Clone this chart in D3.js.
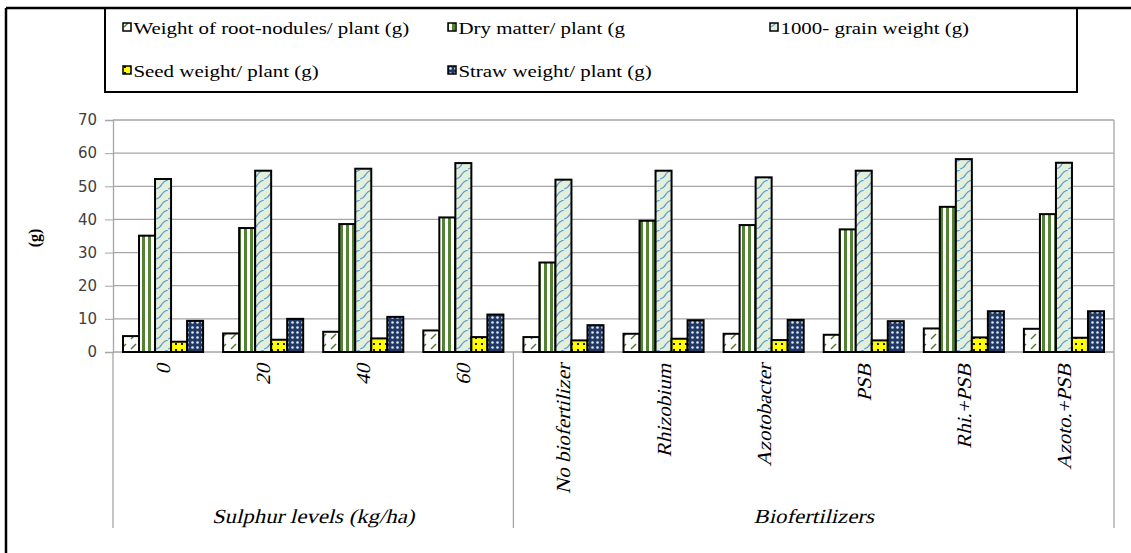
<!DOCTYPE html>
<html>
<head>
<meta charset="utf-8">
<title>Sulphur levels and biofertilizers</title>
<script src="https://d3js.org/d3.v7.min.js"></script>
<style>
  body { margin: 0; background: #fff; }
</style>
</head>
<body>
<div id="chart"></div>
<script>
  const categories = ["0", "20", "40", "60", "No biofertilizer", "Rhizobium", "Azotobacter", "PSB", "Rhi.+PSB", "Azoto.+PSB"];
  const groups = [
    { name: "Sulphur levels (kg/ha)", from: 0, to: 3 },
    { name: "Biofertilizers", from: 4, to: 9 }
  ];
  const seriesNames = [
    "Weight of root-nodules/ plant (g)",
    "Dry matter/ plant (g",
    "1000- grain weight (g)",
    "Seed weight/ plant (g)",
    "Straw weight/ plant (g)"
  ];
  const rootNodules = [4.8, 5.6, 6.1, 6.5, 4.5, 5.5, 5.5, 5.2, 7.1, 7.0];
  const dryMatter = [35.1, 37.4, 38.6, 40.6, 27.0, 39.6, 38.3, 37.0, 43.8, 41.6];
  const grainWeight = [52.2, 54.7, 55.3, 57.0, 52.0, 54.7, 52.7, 54.7, 58.2, 57.1];
  const seedWeight = [3.1, 3.7, 4.1, 4.5, 3.5, 4.0, 3.6, 3.5, 4.4, 4.3];
  const strawWeight = [9.4, 10.0, 10.6, 11.3, 8.1, 9.6, 9.7, 9.3, 12.3, 12.3];
  const yTicks = [0, 10, 20, 30, 40, 50, 60, 70];

  const seriesValues = [rootNodules, dryMatter, grainWeight, seedWeight, strawWeight];

  const width = 1131, height = 553;
  const plot = { left: 113, right: 1114, top: 120, bottom: 352 };
  const serif = "'Liberation Serif'";

  const svg = d3.select("#chart").append("svg")
    .attr("width", width)
    .attr("height", height)
    .attr("font-family", serif);

  // fill patterns, one per series
  const defs = svg.append("defs");

  const p0 = defs.append("pattern").attr("id", "pat0").attr("patternUnits", "userSpaceOnUse")
    .attr("width", 10).attr("height", 10);
  p0.append("rect").attr("width", 10).attr("height", 10).attr("fill", "#fff");
  p0.append("path").attr("d", "M1,9 L6,4").attr("stroke", "#4e7a2c").attr("stroke-width", 1.5);

  const p1 = defs.append("pattern").attr("id", "pat1").attr("patternUnits", "userSpaceOnUse")
    .attr("width", 6).attr("height", 6).attr("x", 1);
  p1.append("rect").attr("width", 6).attr("height", 6).attr("fill", "#fff");
  p1.append("rect").attr("x", 3).attr("width", 3).attr("height", 6).attr("fill", "#548235");

  const p2 = defs.append("pattern").attr("id", "pat2").attr("patternUnits", "userSpaceOnUse")
    .attr("width", 12).attr("height", 10);
  p2.append("rect").attr("width", 12).attr("height", 10).attr("fill", "#e2efda");
  p2.append("path").attr("d", "M0,9 Q4,8 6,4 Q8,1 12,0").attr("fill", "none")
    .attr("stroke", "#5b9bd5").attr("stroke-width", 1.2);

  const p3 = defs.append("pattern").attr("id", "pat3").attr("patternUnits", "userSpaceOnUse")
    .attr("width", 6).attr("height", 6);
  p3.append("rect").attr("width", 6).attr("height", 6).attr("fill", "#ffff00");
  p3.append("rect").attr("x", 1).attr("y", 1).attr("width", 2).attr("height", 2).attr("fill", "#1a1a1a");

  const p4 = defs.append("pattern").attr("id", "pat4").attr("patternUnits", "userSpaceOnUse")
    .attr("width", 5).attr("height", 5);
  p4.append("rect").attr("width", 5).attr("height", 5).attr("fill", "#1f3864");
  p4.append("circle").attr("cx", 2.5).attr("cy", 2.5).attr("r", 1.3).attr("fill", "#dfe6f2");

  const fills = ["url(#pat0)", "url(#pat1)", "url(#pat2)", "url(#pat3)", "url(#pat4)"];

  // outer frame (left and top edges visible)
  svg.append("line").attr("x1", 6).attr("x2", width).attr("y1", 8).attr("y2", 8)
    .attr("stroke", "#000").attr("stroke-width", 2.5);
  svg.append("line").attr("x1", 6).attr("x2", 6).attr("y1", 8).attr("y2", height)
    .attr("stroke", "#000").attr("stroke-width", 2.5);

  // legend box
  svg.append("rect").attr("x", 105).attr("y", 8).attr("width", 972).attr("height", 84)
    .attr("fill", "none").attr("stroke", "#000").attr("stroke-width", 2);

  const legendPos = [[123, 28], [448, 28], [770, 28], [123, 71], [448, 71]];
  const legend = svg.append("g").selectAll("g").data(seriesNames).join("g")
    .attr("transform", (d, i) => `translate(${legendPos[i][0]},${legendPos[i][1]})`);
  legend.append("rect").attr("x", 0).attr("y", -5).attr("width", 8).attr("height", 8)
    .attr("fill", (d, i) => fills[i]).attr("stroke", "#000").attr("stroke-width", 1.5);
  legend.append("text").attr("x", 8.5).attr("y", 0).attr("dy", "0.35em")
    .attr("font-size", 17).attr("fill", "#000")
    .attr("transform", "scale(1.23,1)")
    .text(d => d);

  // scales
  const x0 = d3.scaleBand().domain(categories).range([plot.left, plot.right])
    .paddingInner(0.2).paddingOuter(0.1);
  const x1 = d3.scaleBand().domain(d3.range(seriesNames.length)).range([0, x0.bandwidth()]);
  const y = d3.scaleLinear().domain([0, 70]).range([plot.bottom, plot.top]);

  // gridlines
  svg.append("g").selectAll("line").data(yTicks).join("line")
    .attr("x1", plot.left).attr("x2", plot.right)
    .attr("y1", d => y(d)).attr("y2", d => y(d))
    .attr("stroke", "#a6a6a6").attr("stroke-width", 1.3);

  // y axis
  const yAxis = svg.append("g").attr("transform", `translate(${plot.left},0)`)
    .call(d3.axisLeft(y).tickValues(yTicks).tickSize(8).tickPadding(8));
  yAxis.select(".domain").attr("stroke", "#a6a6a6").attr("stroke-width", 1.3);
  yAxis.selectAll(".tick line").attr("stroke", "#a6a6a6");
  yAxis.selectAll(".tick text").attr("font-family", "'DejaVu Sans', Verdana, sans-serif")
    .attr("font-size", 15).attr("fill", "#404040");

  // right border of plot area
  svg.append("line").attr("x1", plot.right).attr("x2", plot.right)
    .attr("y1", plot.top).attr("y2", 528).attr("stroke", "#a6a6a6").attr("stroke-width", 1.3);

  // y axis title
  svg.append("text").attr("transform", "translate(40,238) rotate(-90)")
    .attr("text-anchor", "middle").attr("font-weight", "bold").attr("font-size", 16)
    .text("(g)");

  // bars
  svg.append("g").selectAll("g").data(seriesValues).join("g")
    .attr("fill", (d, i) => fills[i])
    .each(function (vals, si) {
      d3.select(this).selectAll("rect").data(vals).join("rect")
        .attr("x", (d, ci) => x0(categories[ci]) + x1(si))
        .attr("width", x1.bandwidth())
        .attr("y", d => y(d))
        .attr("height", d => y(0) - y(d))
        .attr("stroke", "#000").attr("stroke-width", 2);
    });

  // group separators below the axis
  const sepX = [plot.left, (x0(categories[3]) + x0(categories[4]) + x0.bandwidth()) / 2];
  svg.append("g").selectAll("line").data(sepX).join("line")
    .attr("x1", d => d).attr("x2", d => d).attr("y1", plot.bottom).attr("y2", 528)
    .attr("stroke", "#a6a6a6").attr("stroke-width", 1.3);

  // category labels (italic faked with a skew, the serif italic face is not installed)
  svg.append("g").selectAll("text").data(categories).join("text")
    .attr("transform", d => `translate(${x0(d) + x0.bandwidth() / 2 + 7},364) rotate(-90) skewX(-14) scale(1.05,1)`)
    .attr("text-anchor", "end").attr("font-size", 20)
    .attr("fill", "#000").text(d => d);

  // group labels
  svg.append("g").selectAll("text").data(groups).join("text")
    .attr("transform", g => `translate(${(x0(categories[g.from]) + x0(categories[g.to]) + x0.bandwidth()) / 2},523) skewX(-14) scale(1.14,1)`)
    .attr("text-anchor", "middle")
    .attr("font-size", 20).attr("fill", "#000").text(g => g.name);
</script>
</body>
</html>
